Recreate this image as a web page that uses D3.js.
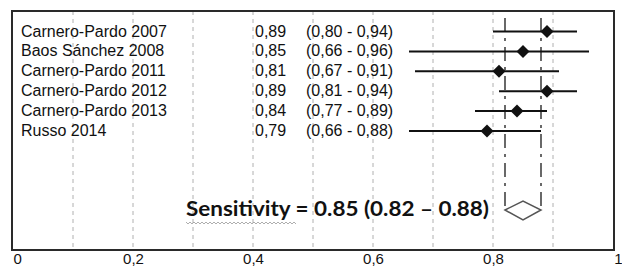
<!DOCTYPE html>
<html>
<head>
<meta charset="utf-8">
<script src="https://cdn.jsdelivr.net/npm/d3@7"></script>
<style>
  body { margin: 0; background: #fff; }
  svg { display: block; }
</style>
</head>
<body>
<svg id="chart" width="622" height="269"></svg>
<script>
(function() {

    // study rows
    var studies = ["Carnero-Pardo 2007", "Baos Sánchez 2008", "Carnero-Pardo 2011", "Carnero-Pardo 2012", "Carnero-Pardo 2013", "Russo 2014"];
    var sens = [0.89, 0.85, 0.81, 0.89, 0.84, 0.79];
    var lower = [0.80, 0.66, 0.67, 0.81, 0.77, 0.66];
    var upper = [0.94, 0.96, 0.91, 0.94, 0.89, 0.88];
    // pooled estimate
    var pooled = [0.85, 0.82, 0.88];
    var pooledLabel = "Sensitivity = 0.85 (0.82 – 0.88)";
    var ticks = [0, 0.2, 0.4, 0.6, 0.8, 1];
    var grid = [0.1, 0.2, 0.3, 0.4, 0.5, 0.6, 0.7, 0.8, 0.9];

    var svg = d3.select("#chart"),
        x = d3.scaleLinear().domain([0, 1]).range([13, 613]),
        y = d3.scalePoint().domain(studies).range([31.5, 131]),
        fmt = function(v) { return d3.format(".2f")(v).replace(".", ","); },
        top = 11, bottom = 250,
        yPool = 210;

    // grid lines
    svg.append("g").selectAll("line").data(grid).join("line")
        .attr("x1", function(d) { return x(d); })
        .attr("x2", function(d) { return x(d); })
        .attr("y1", top).attr("y2", bottom)
        .attr("stroke", "#b0b0b0")
        .attr("stroke-dasharray", "4,4");

    // frame
    svg.append("rect")
        .attr("x", 12).attr("y", top)
        .attr("width", 602).attr("height", bottom - top)
        .attr("fill", "none").attr("stroke", "#2a2a2a").attr("stroke-width", 2);

    // axis labels
    var axis = svg.append("g")
        .attr("transform", "translate(0," + bottom + ")")
        .call(d3.axisBottom(x).tickValues(ticks).tickSize(0).tickPadding(2)
            .tickFormat(function(d) { return d === 0 || d === 1 ? d3.format("d")(d) : d3.format(".1f")(d).replace(".", ","); }));
    axis.select(".domain").remove();
    axis.selectAll("text")
        .attr("font-family", "Liberation Sans, Arial, sans-serif")
        .attr("font-size", 15).attr("fill", "#111")
        .attr("dy", "0.82em");
    axis.selectAll(".tick").filter(function(d) { return d === 0; }).select("text").attr("text-anchor", "start");
    axis.selectAll(".tick").filter(function(d) { return d === 1; }).select("text").attr("text-anchor", "end").attr("x", 9);

    // pooled CI dashed lines
    svg.append("g").selectAll("line").data([pooled[1], pooled[2]]).join("line")
        .attr("x1", function(d) { return x(d); })
        .attr("x2", function(d) { return x(d); })
        .attr("y1", 18).attr("y2", yPool)
        .attr("stroke", "#444").attr("stroke-width", 1.6)
        .attr("stroke-dasharray", "14,6,3,6");

    // text columns
    var txt = svg.append("g")
        .attr("font-family", "Liberation Sans, Arial, sans-serif")
        .attr("font-size", 16).attr("fill", "#111");
    studies.forEach(function(s, i) {
        var yy = y(s) + 5;
        txt.append("text").attr("x", 21).attr("y", yy).text(s);
        txt.append("text").attr("x", 255).attr("y", yy).text(fmt(sens[i]));
        txt.append("text").attr("x", 306).attr("y", yy).text("(" + fmt(lower[i]) + " - " + fmt(upper[i]) + ")");
    });

    // CI lines
    svg.append("g").selectAll("line").data(studies).join("line")
        .attr("x1", function(d, i) { return x(lower[i]); })
        .attr("x2", function(d, i) { return x(upper[i]); })
        .attr("y1", function(d) { return y(d); })
        .attr("y2", function(d) { return y(d); })
        .attr("stroke", "#111").attr("stroke-width", 2);

    // point estimates
    svg.append("g").selectAll("path").data(studies).join("path")
        .attr("d", function(d, i) {
            var cx = x(sens[i]), cy = y(d), r = 6.5;
            return "M" + (cx - r) + "," + cy + "L" + cx + "," + (cy - r) + "L" + (cx + r) + "," + cy + "L" + cx + "," + (cy + r) + "Z";
        })
        .attr("fill", "#111");

    // pooled diamond
    svg.append("path")
        .attr("d", "M" + x(pooled[1]) + "," + yPool + "L" + x(pooled[0]) + "," + (yPool - 9) +
            "L" + x(pooled[2]) + "," + yPool + "L" + x(pooled[0]) + "," + (yPool + 10) + "Z")
        .attr("fill", "#fff").attr("stroke", "#555").attr("stroke-width", 1.5);

    // pooled label
    svg.append("text")
        .attr("x", 186).attr("y", 216)
        .attr("font-family", "Lato, 'Open Sans', sans-serif")
        .attr("font-weight", 700).attr("font-size", 21)
        .attr("fill", "#111")
        .attr("textLength", 303).attr("lengthAdjust", "spacingAndGlyphs")
        .text(pooledLabel);

    // spell-check squiggle under "Sensitivity"
    var sq = "M186,222";
    for (var sx = 186; sx < 296; sx += 2) sq += "L" + (sx + 2) + "," + (((sx - 186) / 2) % 2 === 0 ? 224 : 222);
    svg.append("path").attr("d", sq).attr("fill", "none").attr("stroke", "#999").attr("stroke-width", 0.8);

})();
</script>
</body>
</html>
